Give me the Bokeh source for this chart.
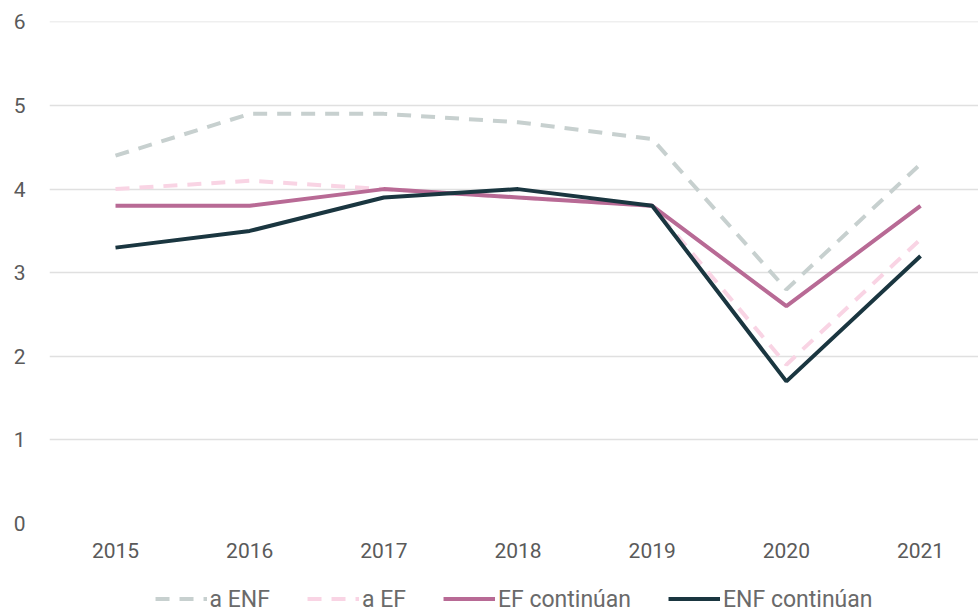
from bokeh.plotting import figure
from bokeh.models import Legend, LegendItem, FixedTicker, Range1d
from bokeh.layouts import column
from bokeh.embed import file_html
from bokeh.resources import INLINE

years = [2015, 2016, 2017, 2018, 2019, 2020, 2021]
a_enf = [4.4, 4.9, 4.9, 4.8, 4.6, 2.8, 4.3]
a_ef = [4.0, 4.1, 4.0, 3.9, 3.8, 1.9, 3.4]
ef_continuan = [3.8, 3.8, 4.0, 3.9, 3.8, 2.6, 3.8]
enf_continuan = [3.3, 3.5, 3.9, 4.0, 3.8, 1.7, 3.2]
y_ticks = [0, 1, 2, 3, 4, 5, 6]
series = [
    ("a ENF", a_enf, "#c7d0cf", "14 10"),
    ("a EF", a_ef, "#f9d4e4", "14 10"),
    ("EF continúan", ef_continuan, "#b86a95", "solid"),
    ("ENF continúan", enf_continuan, "#1a3640", "solid"),
]

FONT = "Roboto"

p = figure(width=978, height=583, output_backend="svg", toolbar_location=None,
           x_range=Range1d(2014.508, 2021.432), y_range=Range1d(0, 6.005),
           min_border_top=21, min_border_right=0, min_border_left=49, min_border_bottom=60)
p.outline_line_color = None
p.background_fill_color = "white"
p.border_fill_color = "white"

p.xgrid.grid_line_color = None
p.ygrid.grid_line_color = "#e0e0e0"
p.ygrid.grid_line_width = 1.5
p.yaxis.ticker = FixedTicker(ticks=y_ticks)
p.xaxis.ticker = FixedTicker(ticks=years)

for ax in (p.xaxis, p.yaxis):
    ax.axis_line_color = None
    ax.major_tick_line_color = None
    ax.minor_tick_line_color = None
    ax.major_tick_in = 0
    ax.major_tick_out = 0
    ax.major_label_text_font = FONT
    ax.major_label_text_font_size = "21px"
    ax.major_label_text_color = "#5a5a5a"
p.yaxis.major_label_standoff = 24
p.xaxis.major_label_standoff = 19

for name, vals, color, dash in series:
    p.line(years, vals, line_color=color, line_width=4, line_dash=dash)

# legend-only strip below the chart (same series, drawn outside its view)
lf = figure(width=978, height=31, output_backend="svg", toolbar_location=None,
            x_range=Range1d(0, 1), y_range=Range1d(0, 1),
            x_axis_type=None, y_axis_type=None,
            min_border_top=0, min_border_bottom=0, min_border_left=36, min_border_right=0)
lf.outline_line_color = None
lf.xgrid.grid_line_color = None
lf.ygrid.grid_line_color = None
items = []
for name, vals, color, dash in series:
    r = lf.line(years, vals, line_color=color, line_width=4, line_dash=dash)
    items.append(LegendItem(label=name, renderers=[r]))

legend = Legend(items=items, orientation="horizontal", location="center",
    border_line_color=None, background_fill_alpha=0,
    label_text_font=FONT, label_text_font_size="23px", label_text_color="#6a6a6a",
    glyph_width=52, glyph_height=20, label_height=20, spacing=37, label_standoff=3,
    padding=0, margin=0)
lf.add_layout(legend, "center")

layout = column(p, lf, spacing=0)
open("out.html", "w").write(file_html(layout, INLINE))
